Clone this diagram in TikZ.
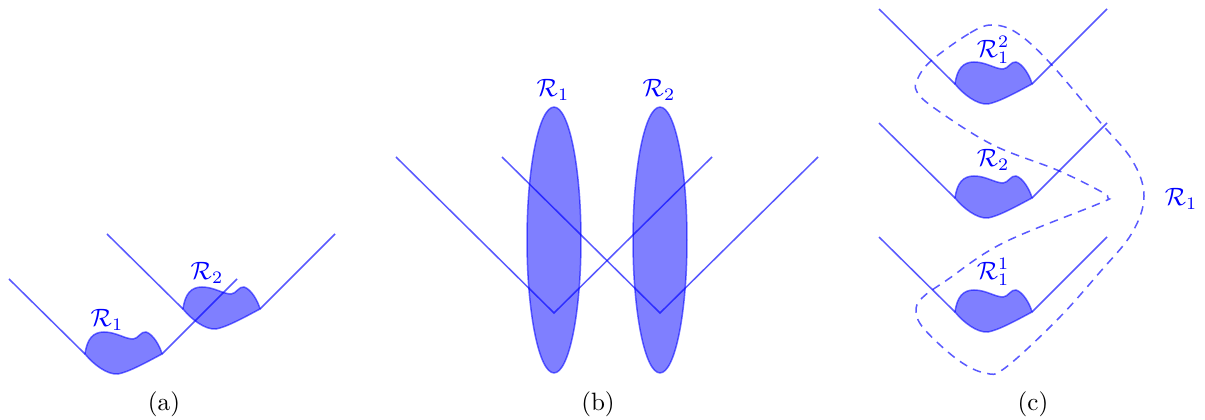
\documentclass[tikz,border=0pt]{standalone}
\usepackage{amsmath}
\usepackage{xcolor}
\definecolor{regionBlue}{RGB}{0,0,255}
\usetikzlibrary{positioning}

\tikzset{
  cupline/.style={draw=regionBlue, draw opacity=0.65, semithick},
  regionfill/.style={fill=regionBlue, fill opacity=0.5, draw=regionBlue, draw opacity=0.55, semithick},
  regionlabel/.style={text=regionBlue, inner sep=0pt},
  sublabel/.style={inner sep=0pt},
  pics/regioncup/.style={code={
    \draw[cupline] (-76,-75) -- (0,0);
    \draw[cupline] (77,0) -- (152,-75);
    \draw[regionfill] (0,0) .. controls (2,-15) and (8,-22) .. (19,-22)
      .. controls (31,-22) and (40,-15) .. (48,-15)
      .. controls (53,-15) and (56,-23) .. (61,-22)
      .. controls (68,-20) and (75,-8) .. (77,0)
      .. controls (62,8) and (44,18) .. (33,20)
      .. controls (22,21) and (8,10) .. (0,0) -- cycle;
  }}
}

\begin{document}
\begin{tikzpicture}[x=0.014cm, y=-0.014cm]
    \useasboundingbox (0,0) rectangle (1205,420);

    % (a) two shifted cups
    \pic at (85,354) {regioncup};
    \pic at (183,309) {regioncup};
    \node[regionlabel] (ra1) at (107,320) {$\mathcal{R}_1$};
    \node[regionlabel] (ra2) at (207,273) {$\mathcal{R}_2$};
    \node[sublabel] (capa) at (164,404) {(a)};

    % (b) ellipses and crossing V lines
    \draw[regionfill] (554,240) ellipse [x radius=0.378cm, y radius=1.862cm];
    \draw[regionfill] (660,240) ellipse [x radius=0.378cm, y radius=1.862cm];
    \draw[cupline] (396,157) -- (554,313) -- (712,157);
    \draw[cupline] (502,157) -- (660,313) -- (818,157);
    \node[regionlabel] (rb1) at (553,90) {$\mathcal{R}_1$};
    \node[regionlabel] (rb2) at (659,90) {$\mathcal{R}_2$};
    \node[sublabel] (capb) at (598,404) {(b)};

    % (c) three stacked cups
    \foreach \yy in {84,198,312}
        \pic at (955,\yy) {regioncup};
    \node[regionlabel] (rc12) at (993,50) {$\mathcal{R}_1^2$};
    \node[regionlabel] (rc2) at (993,160) {$\mathcal{R}_2$};
    \node[regionlabel] (rc11) at (993,272) {$\mathcal{R}_1^1$};
    \node[regionlabel] (rc1) at (1181,199) {$\mathcal{R}_1$};
    \node[sublabel] (capc) at (1033,404) {(c)};

    % dashed outline of R_1 in (c)
    \draw[cupline, dashed, dash pattern=on 3.4pt off 2.6pt] plot[smooth cycle, tension=0.6] coordinates {
        (932,60) (970,33) (992,25) (1017,33) (1050,63) (1100,122)
        (1132,160) (1144,196) (1132,233) (1100,272) (1057,320)
        (1005,368) (985,373) (958,360) (925,330) (916,312) (922,298)
        (947,280) (1003,243) (1098,204) (1108,198) (1100,191)
        (1057,170) (993,145) (937,110) (917,92) (918,78)};
\end{tikzpicture}
\end{document}
